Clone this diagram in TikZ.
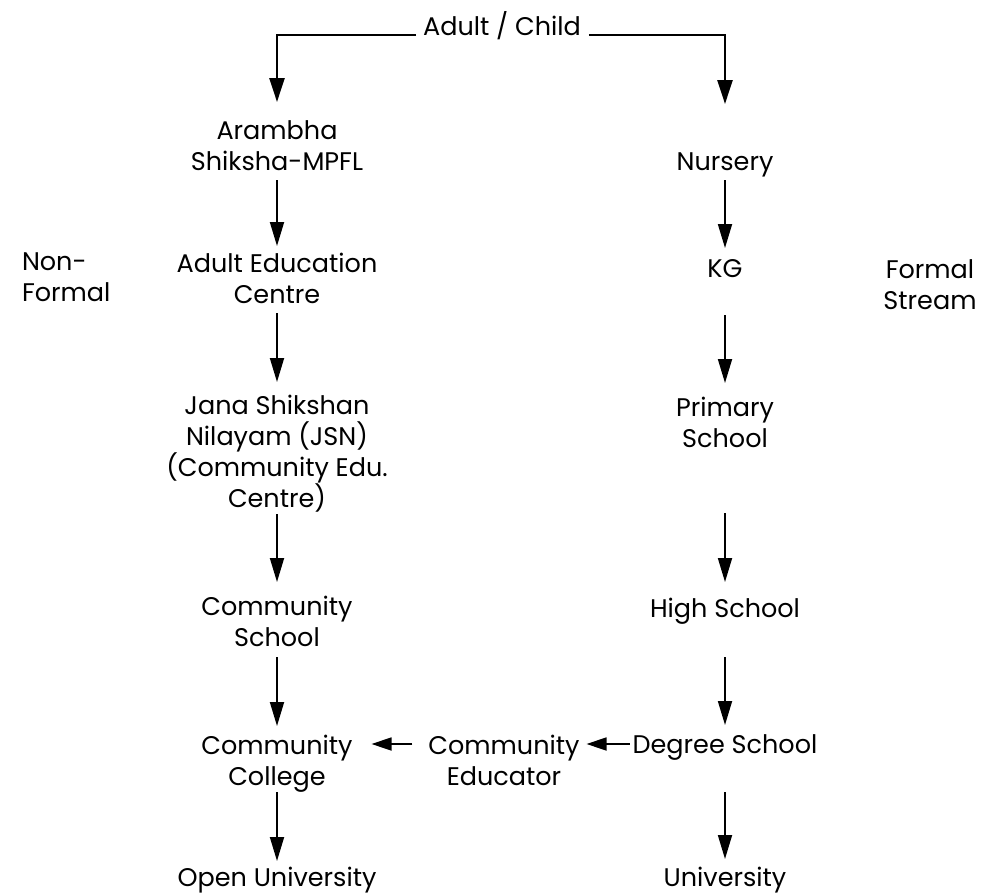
\documentclass[tikz,border=0pt]{standalone}
\usepackage{fontspec}
\setmainfont{Poppins}
\usetikzlibrary{arrows.meta,calc}
\begin{document}
\begin{tikzpicture}[x=1pt,y=-1pt,
  lbl/.style={inner sep=0pt, outer sep=0pt, align=center, anchor=north, font=\fontsize{25.5pt}{31pt}\selectfont},
  arr/.style={line width=1.8pt, -{Triangle[length=24pt,width=14pt]}},
  harr/.style={line width=1.8pt, -{Triangle[length=20pt,width=13pt]}},
  toparr/.style={line width=2.4pt, line join=miter, -{Triangle[length=24pt,width=15pt]}}]
\useasboundingbox (0,0) rectangle (983,894);
% labels
\node[lbl] (top) at (502,11) {Adult / Child};
\node[lbl] (arambha) at (277,121) {Arambha\\Shiksha-MPFL};
\node[lbl] (adulted) at (277,253) {Adult Education\\Centre};
\node[lbl] (jana) at (277,395) {Jana Shikshan\\Nilayam (JSN)\\(Community Edu.\\Centre)};
\node[lbl] (commschool) at (277,596) {Community\\School};
\node[lbl] (college) at (277,735) {Community\\College};
\node[lbl] (openuni) at (277,867) {Open University};
\node[lbl] (nursery) at (725,153) {Nursery};
\node[lbl] (kg) at (725,260) {KG};
\node[lbl] (primary) at (725,397) {Primary\\School};
\node[lbl] (high) at (725,598) {High School};
\node[lbl] (degree) at (725,735) {Degree School};
\node[lbl] (university) at (725,867) {University};
\node[lbl] (educator) at (504,735) {Community\\Educator};
\node[lbl, align=left, anchor=north west] (nonformal) at (22,253) {Non-\\Formal};
\node[lbl] (formal) at (930,260) {Formal\\Stream};
% top split
\draw[toparr] ($(top.north west)+(-7,24)$) -| ($(arambha.north)+(0,-19)$);
\draw[toparr] ($(top.north east)+(8,24)$) -| ($(nursery.north)+(0,-49)$);
% left column
\draw[arr] ($(arambha.north)+(0,59)$) -- ($(adulted.north)+(0,-7)$);
\draw[arr] ($(adulted.north)+(0,60)$) -- ($(jana.north)+(0,-13)$);
\draw[arr] ($(jana.north)+(0,119)$) -- ($(commschool.north)+(0,-14)$);
\draw[arr] ($(commschool.north)+(0,61)$) -- ($(college.north)+(0,-9)$);
\draw[arr] ($(college.north)+(0,57)$) -- ($(openuni.north)+(0,-6)$);
% right column
\draw[arr] ($(nursery.north)+(0,27)$) -- ($(kg.north)+(0,-12)$);
\draw[arr] ($(kg.north)+(0,55)$) -- ($(primary.north)+(0,-14)$);
\draw[arr] ($(primary.north)+(0,116)$) -- ($(high.north)+(0,-16)$);
\draw[arr] ($(high.north)+(0,59)$) -- ($(degree.north)+(0,-10)$);
\draw[arr] ($(degree.north)+(0,57)$) -- ($(university.north)+(0,-8)$);
% horizontal
\draw[harr] ($(degree.north west)+(-3,9)$) -- ($(educator.north east)+(7,9)$);
\draw[harr] ($(educator.north west)+(-16,9)$) -- ($(college.north east)+(19,9)$);
\end{tikzpicture}
\end{document}
